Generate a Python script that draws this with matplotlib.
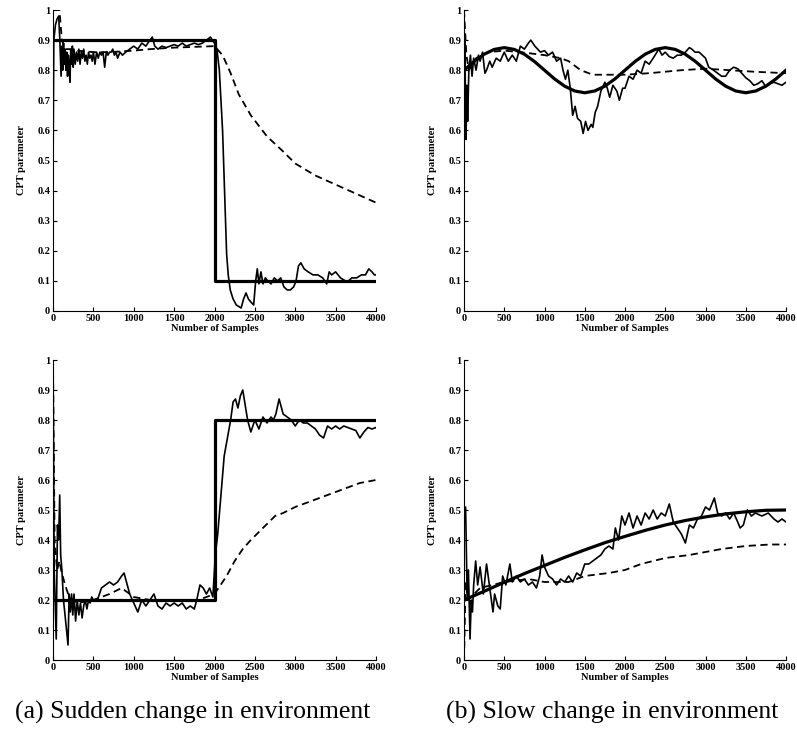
import matplotlib
matplotlib.use("Agg")
import matplotlib.pyplot as plt

plt.rcParams['font.family'] = ['Liberation Serif', 'DejaVu Serif']

# ---- (a) top: sudden drop 0.9 -> 0.1 ----
a1_true_x = [0, 2000, 2000, 4000]
a1_true_y = [0.9, 0.9, 0.1, 0.1]
a1_est_x = [0, 10, 30, 50, 70, 85, 100, 110, 120, 130, 140, 150, 160, 170, 180, 190, 200, 210,
            220, 230, 240, 250, 260, 275, 290, 305, 320, 335, 350, 365, 380, 395, 410, 425, 440,
            455, 470, 485, 500, 520, 540, 560, 580, 600, 620, 640, 660, 680, 700, 720, 740, 760,
            780, 800, 830, 860, 900, 950, 1000, 1050, 1100, 1150, 1200, 1230, 1260, 1300, 1350,
            1400, 1450, 1500, 1550, 1600, 1650, 1700, 1750, 1800, 1850, 1900, 1950, 2000, 2030,
            2060, 2100, 2130, 2150, 2170, 2195, 2230, 2270, 2300, 2330, 2360, 2390, 2420, 2450,
            2485, 2510, 2530, 2550, 2575, 2600, 2630, 2660, 2700, 2740, 2780, 2820, 2860, 2900,
            2940, 2980, 3010, 3040, 3070, 3110, 3160, 3220, 3280, 3340, 3390, 3420, 3450, 3500,
            3560, 3620, 3660, 3700, 3760, 3820, 3870, 3910, 3950, 3980, 4000]
a1_est_y = [0.45, 0.9, 0.95, 0.97, 0.98, 0.9, 0.78, 0.88, 0.8, 0.89, 0.82, 0.87, 0.8, 0.86,
            0.78, 0.85, 0.82, 0.76, 0.87, 0.82, 0.88, 0.81, 0.87, 0.82, 0.86, 0.83, 0.87, 0.82,
            0.86, 0.84, 0.87, 0.83, 0.85, 0.82, 0.86, 0.84, 0.85, 0.83, 0.86, 0.82, 0.86, 0.84,
            0.86, 0.85, 0.86, 0.81, 0.86, 0.85, 0.86, 0.86, 0.87, 0.85, 0.86, 0.84, 0.86, 0.85,
            0.86, 0.87, 0.88, 0.87, 0.89, 0.88, 0.9, 0.91, 0.88, 0.87, 0.88, 0.875, 0.88, 0.885,
            0.88, 0.89, 0.88, 0.885, 0.89, 0.885, 0.89, 0.9, 0.91, 0.89, 0.87, 0.8, 0.6, 0.35,
            0.19, 0.12, 0.07, 0.04, 0.02, 0.015, 0.01, 0.04, 0.06, 0.04, 0.03, 0.02, 0.1, 0.14,
            0.09, 0.13, 0.09, 0.11, 0.1, 0.09, 0.11, 0.1, 0.11, 0.08, 0.07, 0.07, 0.08, 0.1,
            0.15, 0.16, 0.14, 0.13, 0.12, 0.12, 0.11, 0.09, 0.13, 0.12, 0.13, 0.11, 0.1, 0.1,
            0.11, 0.11, 0.12, 0.12, 0.14, 0.13, 0.12, 0.12]
a1_dash_x = [0, 80, 110, 150, 200, 300, 500, 700, 1000, 1200, 1500, 1800, 2000, 2100, 2200,
             2300, 2450, 2650, 2850, 3000, 3250, 3500, 3750, 4000]
a1_dash_y = [1.0, 1.0, 0.9, 0.87, 0.87, 0.865, 0.86, 0.86, 0.865, 0.87, 0.875, 0.878, 0.88,
             0.85, 0.79, 0.72, 0.65, 0.58, 0.53, 0.49, 0.45, 0.42, 0.39, 0.36]

# ---- (b) top: slow oscillation ----
b1_true_x = [0, 125, 250, 375, 500, 625, 750, 875, 1000, 1125, 1250, 1375, 1500, 1625, 1750,
             1875, 2000, 2125, 2250, 2375, 2500, 2625, 2750, 2875, 3000, 3125, 3250, 3375,
             3500, 3625, 3750, 3875, 4000]
b1_true_y = [0.8, 0.829, 0.853, 0.869, 0.875, 0.869, 0.853, 0.829, 0.8, 0.771, 0.747, 0.731,
             0.725, 0.731, 0.747, 0.771, 0.8, 0.829, 0.853, 0.869, 0.875, 0.869, 0.853, 0.829,
             0.8, 0.771, 0.747, 0.731, 0.725, 0.731, 0.747, 0.771, 0.8]
b1_est_x = [0, 10, 18, 25, 35, 45, 60, 80, 100, 120, 150, 180, 200, 230, 260, 280, 320, 350,
            400, 450, 500, 550, 600, 650, 700, 750, 800, 830, 880, 950, 1000, 1050, 1100, 1150,
            1200, 1230, 1260, 1290, 1320, 1350, 1380, 1410, 1450, 1480, 1510, 1540, 1580, 1600,
            1630, 1660, 1700, 1750, 1780, 1810, 1850, 1900, 1930, 1970, 2000, 2050, 2100, 2150,
            2200, 2250, 2300, 2350, 2420, 2460, 2500, 2550, 2600, 2650, 2700, 2750, 2800, 2830,
            2870, 2920, 2960, 3000, 3040, 3100, 3150, 3200, 3250, 3300, 3350, 3400, 3450, 3500,
            3550, 3600, 3650, 3700, 3750, 3800, 3850, 3900, 3950, 4000]
b1_est_y = [0.5, 0.92, 0.7, 0.57, 0.75, 0.63, 0.8, 0.85, 0.78, 0.84, 0.8, 0.85, 0.83, 0.86,
            0.79, 0.8, 0.83, 0.81, 0.84, 0.83, 0.86, 0.83, 0.85, 0.83, 0.88, 0.87, 0.89, 0.9,
            0.88, 0.86, 0.865, 0.85, 0.86, 0.83, 0.84, 0.8, 0.77, 0.8, 0.74, 0.65, 0.68, 0.64,
            0.63, 0.59, 0.63, 0.6, 0.62, 0.61, 0.66, 0.68, 0.73, 0.76, 0.74, 0.71, 0.75, 0.73,
            0.7, 0.74, 0.74, 0.78, 0.77, 0.8, 0.79, 0.83, 0.82, 0.84, 0.87, 0.85, 0.86, 0.845,
            0.84, 0.85, 0.85, 0.86, 0.875, 0.87, 0.86, 0.86, 0.85, 0.84, 0.81, 0.8, 0.79, 0.78,
            0.78, 0.8, 0.81, 0.805, 0.79, 0.775, 0.765, 0.75, 0.755, 0.765, 0.745, 0.755, 0.76,
            0.755, 0.75, 0.76]
b1_dash_x = [0, 30, 60, 150, 300, 500, 700, 1000, 1200, 1300, 1450, 1600, 1800, 2000, 2300,
             2700, 3000, 3300, 3600, 4000]
b1_dash_y = [1.0, 0.85, 0.8, 0.84, 0.86, 0.865, 0.86, 0.85, 0.84, 0.83, 0.8, 0.785, 0.785,
             0.785, 0.79, 0.8, 0.805, 0.8, 0.795, 0.79]

# ---- (a) bottom: sudden rise 0.2 -> 0.8 ----
a2_true_x = [0, 2000, 2000, 4000]
a2_true_y = [0.2, 0.2, 0.8, 0.8]
a2_est_x = [0, 15, 40, 55, 70, 83, 95, 110, 130, 160, 186, 200, 215, 230, 245, 260, 280, 300,
            320, 340, 360, 380, 400, 420, 440, 460, 480, 500, 550, 600, 650, 700, 750, 800, 850,
            880, 920, 950, 1000, 1050, 1100, 1150, 1200, 1250, 1300, 1350, 1400, 1450, 1500,
            1550, 1600, 1650, 1700, 1750, 1780, 1820, 1860, 1900, 1940, 1980, 2010, 2040, 2080,
            2120, 2160, 2200, 2230, 2260, 2290, 2320, 2350, 2380, 2410, 2450, 2500, 2550, 2600,
            2650, 2700, 2730, 2760, 2800, 2850, 2900, 2950, 3000, 3050, 3100, 3150, 3200, 3250,
            3300, 3350, 3400, 3450, 3500, 3550, 3600, 3650, 3700, 3750, 3800, 3850, 3900, 3950,
            4000]
a2_est_y = [1.0, 0.3, 0.07, 0.45, 0.4, 0.55, 0.35, 0.3, 0.2, 0.12, 0.05, 0.22, 0.16, 0.22,
            0.15, 0.22, 0.13, 0.2, 0.15, 0.19, 0.14, 0.18, 0.2, 0.17, 0.2, 0.19, 0.21, 0.2,
            0.2, 0.24, 0.25, 0.26, 0.25, 0.26, 0.28, 0.29, 0.25, 0.22, 0.19, 0.16, 0.2, 0.18,
            0.2, 0.22, 0.18, 0.17, 0.19, 0.18, 0.19, 0.18, 0.19, 0.17, 0.18, 0.17, 0.2, 0.25,
            0.24, 0.22, 0.24, 0.21, 0.35, 0.42, 0.55, 0.68, 0.74, 0.8, 0.86, 0.87, 0.84, 0.88,
            0.9, 0.85, 0.8, 0.76, 0.8, 0.77, 0.81, 0.79, 0.81, 0.8, 0.82, 0.87, 0.82, 0.81,
            0.8, 0.78, 0.8, 0.79, 0.79, 0.78, 0.77, 0.75, 0.74, 0.78, 0.77, 0.78, 0.77, 0.78,
            0.775, 0.77, 0.765, 0.74, 0.76, 0.775, 0.77, 0.775]
a2_dash_x = [0, 20, 50, 80, 100, 150, 200, 300, 500, 700, 850, 1000, 1200, 1500, 1800, 1900,
             2000, 2050, 2150, 2250, 2350, 2450, 2600, 2750, 2850, 3000, 3200, 3400, 3600, 3800,
             4000]
a2_dash_y = [1.0, 0.4, 0.3, 0.33, 0.3, 0.25, 0.21, 0.19, 0.2, 0.22, 0.24, 0.21, 0.2, 0.2, 0.2,
             0.21, 0.22, 0.24, 0.28, 0.33, 0.37, 0.4, 0.44, 0.48, 0.49, 0.51, 0.53, 0.55, 0.57,
             0.59, 0.6]

# ---- (b) bottom: slow rise 0.2 -> 0.5 ----
b2_true_x = [0, 250, 500, 750, 1000, 1250, 1500, 1750, 2000, 2250, 2500, 2750, 3000, 3250,
             3500, 3750, 4000]
b2_true_y = [0.2, 0.229, 0.259, 0.288, 0.315, 0.342, 0.367, 0.391, 0.412, 0.432, 0.45, 0.465,
             0.477, 0.487, 0.494, 0.499, 0.5]
b2_est_x = [0, 20, 40, 55, 75, 90, 105, 120, 145, 170, 200, 240, 280, 320, 340, 360, 380, 420,
            450, 480, 520, 570, 600, 650, 700, 750, 800, 850, 900, 940, 970, 1000, 1050, 1100,
            1150, 1200, 1250, 1300, 1350, 1400, 1450, 1500, 1550, 1600, 1650, 1700, 1750, 1800,
            1850, 1880, 1920, 1960, 2000, 2050, 2100, 2150, 2200, 2250, 2300, 2350, 2400, 2450,
            2500, 2550, 2600, 2650, 2700, 2750, 2800, 2850, 2900, 2950, 3000, 3050, 3110, 3150,
            3200, 3250, 3300, 3350, 3400, 3430, 3470, 3520, 3570, 3620, 3700, 3780, 3850, 3900,
            3950, 4000]
b2_est_y = [0.45, 0.51, 0.2, 0.3, 0.07, 0.2, 0.16, 0.25, 0.33, 0.25, 0.31, 0.22, 0.32, 0.24,
            0.2, 0.16, 0.22, 0.18, 0.17, 0.28, 0.25, 0.32, 0.26, 0.28, 0.26, 0.27, 0.25, 0.26,
            0.24, 0.28, 0.35, 0.31, 0.28, 0.27, 0.25, 0.27, 0.26, 0.28, 0.26, 0.29, 0.28, 0.32,
            0.32, 0.33, 0.34, 0.35, 0.37, 0.38, 0.37, 0.44, 0.4, 0.48, 0.45, 0.49, 0.44, 0.48,
            0.45, 0.49, 0.47, 0.5, 0.47, 0.49, 0.48, 0.52, 0.46, 0.44, 0.42, 0.39, 0.45, 0.44,
            0.47, 0.48, 0.51, 0.5, 0.54, 0.49, 0.48, 0.49, 0.47, 0.49, 0.46, 0.44, 0.45, 0.5,
            0.48, 0.49, 0.48, 0.49, 0.47, 0.46, 0.47, 0.46]
b2_dash_x = [0, 20, 50, 200, 500, 800, 1000, 1300, 1500, 1800, 2000, 2200, 2500, 2800, 3000,
             3200, 3500, 3800, 4000]
b2_dash_y = [0.0, 0.26, 0.2, 0.24, 0.26, 0.27, 0.26, 0.26, 0.28, 0.29, 0.3, 0.32, 0.34, 0.35,
             0.36, 0.37, 0.38, 0.385, 0.385]

yticks = [0, 0.1, 0.2, 0.3, 0.4, 0.5, 0.6, 0.7, 0.8, 0.9, 1]
ytick_labels = ['0', '0.1', '0.2', '0.3', '0.4', '0.5', '0.6', '0.7', '0.8', '0.9', '1']
xticks = [0, 500, 1000, 1500, 2000, 2500, 3000, 3500, 4000]
captions = ['(a) Sudden change in environment', '(b) Slow change in environment']

fig = plt.figure(figsize=(7.97, 7.33), dpi=100)
W, H = 797.0, 733.0

# axes boxes in pixels: left, right, bottom(y=0), top(y=1)
boxes = [(53, 376, 311, 10), (464, 786, 311, 10), (53, 376, 660, 360), (464, 786, 660, 360)]
panels = [
    (a1_true_x, a1_true_y, a1_est_x, a1_est_y, a1_dash_x, a1_dash_y),
    (b1_true_x, b1_true_y, b1_est_x, b1_est_y, b1_dash_x, b1_dash_y),
    (a2_true_x, a2_true_y, a2_est_x, a2_est_y, a2_dash_x, a2_dash_y),
    (b2_true_x, b2_true_y, b2_est_x, b2_est_y, b2_dash_x, b2_dash_y),
]

for (l, r, b0, t1), (tx, ty, ex, ey, dx, dy) in zip(boxes, panels):
    ax = fig.add_axes([l / W, (H - b0) / H, (r - l) / W, (b0 - t1) / H])
    ax.plot(dx, dy, color='black', lw=1.3, ls=(0, (4, 2.5)))
    ax.plot(ex, ey, color='black', lw=1.2)
    ax.plot(tx, ty, color='black', lw=2.3)
    ax.set_xlim(0, 4000)
    ax.set_ylim(0, 1)
    ax.spines['top'].set_visible(False)
    ax.spines['right'].set_visible(False)
    ax.set_xticks(xticks)
    ax.set_xticklabels([str(v) for v in xticks], fontsize=7.5, fontweight='bold')
    ax.set_yticks(yticks)
    ax.set_yticklabels(ytick_labels, fontsize=7.5, fontweight='bold')
    ax.tick_params(direction='in', length=3, width=0.8, pad=2)
    ax.set_xlabel('Number of Samples', fontsize=7.5, fontweight='bold', labelpad=1)
    ax.set_ylabel('CPT parameter', fontsize=7.5, fontweight='bold', labelpad=8)

fig.text(193 / W, 1 - 712 / H, captions[0], ha='center', va='center', fontsize=18.5)
fig.text(612 / W, 1 - 712 / H, captions[1], ha='center', va='center', fontsize=18.5)

fig.savefig('out.png', dpi=100)
